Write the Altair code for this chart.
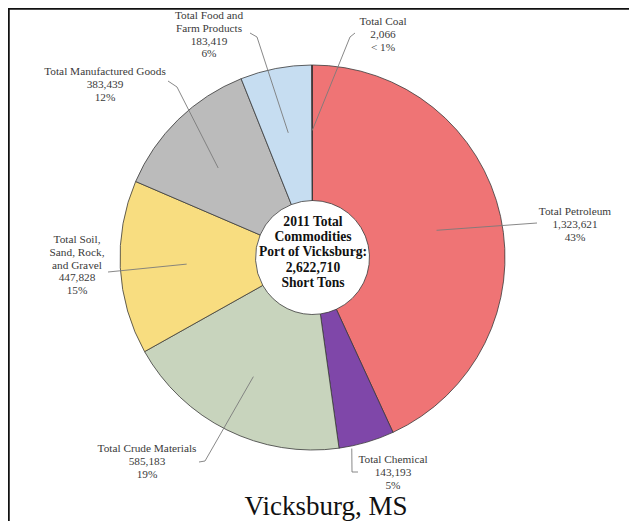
import math
import altair as alt
import pandas as pd

# ---------------- data ----------------
categories = [
    "Total Petroleum",
    "Total Chemical",
    "Total Crude Materials",
    "Total Soil, Sand, Rock, and Gravel",
    "Total Manufactured Goods",
    "Total Food and Farm Products",
    "Total Coal",
]
tons = [1323621, 143193, 585183, 447828, 383439, 183419, 2066]
tons_text = ["1,323,621", "143,193", "585,183", "447,828", "383,439", "183,419", "2,066"]
pct_text = ["43%", "5%", "19%", "15%", "12%", "6%", "< 1%"]
label_names = [
    "Total Petroleum",
    "Total Chemical",
    "Total Crude Materials",
    "Total Soil,\nSand, Rock,\nand Gravel",
    "Total Manufactured Goods",
    "Total Food and\nFarm Products",
    "Total Coal",
]
center_text = "2011 Total\nCommodities\nPort of Vicksburg:\n2,622,710\nShort Tons"
title_text = "Vicksburg, MS"

# ---------------- layout / style ----------------
W, H = 621, 513
OFF = 8  # page margin
CX, CY = 312.5 - OFF, 257.5 - OFF
R_OUT, R_IN = 192.5, 57
colors = ["#EF7475", "#7F47A9", "#C8D4BD", "#F8DD80", "#BBBBBB", "#C6DDF1", "#8B1A1A"]

# first-line centres of the label blocks (page coords)
label_pos = [(575, 212), (393, 460), (147, 449), (77, 240), (105, 72), (209, 16), (383, 22)]
# leader polyline points from label side (page coords), then anchor in slice
leader_pts = [
    [(537, 223)],
    [(358, 472), (352, 472)],
    [(199, 462), (205, 461)],
    [(108, 272)],
    [(168, 81), (177, 87)],
    [(250, 33), (257, 37)],
    [(355, 33), (350, 37)],
]
# (fraction within slice, radius) of the leader end point
anchors = [(0.5, 127), (0.78, 195), (0.5, 133), (0.5, 126), (0.45, 130), (0.5, 127), (0.5, 127)]

total = sum(tons)
starts = []
acc = 0
for t in tons:
    starts.append(acc)
    acc += t

df = pd.DataFrame({
    "name": categories,
    "value": tons,
    "order": list(range(len(tons))),
})

lab_rows = []
for i, name in enumerate(label_names):
    lab_rows.append({
        "px": label_pos[i][0] - OFF,
        "py": label_pos[i][1] - OFF,
        "txt": name + "\n" + tons_text[i] + "\n" + pct_text[i],
    })
lab_df = pd.DataFrame(lab_rows)

line_rows = []
for i in range(len(tons)):
    pts = [(x - OFF, y - OFF) for x, y in leader_pts[i]]
    frac, r = anchors[i]
    a = 2 * math.pi * (starts[i] + frac * tons[i]) / total
    pts.append((CX + r * math.sin(a), CY - r * math.cos(a)))
    for k, (x, y) in enumerate(pts):
        line_rows.append({"grp": i, "seq": k, "px": x, "py": y})
line_df = pd.DataFrame(line_rows)

xs = alt.Scale(domain=[0, W], range=[0, W], nice=False, zero=False)
ys = alt.Scale(domain=[0, H], range=[0, H], nice=False, zero=False)

arcs = alt.Chart(df).mark_arc(
    innerRadius=R_IN, outerRadius=R_OUT, stroke="#3a3a3a", strokeWidth=0.8
).encode(
    theta=alt.Theta("value:Q", stack=True),
    color=alt.Color("name:N", scale=alt.Scale(domain=categories, range=colors), legend=None),
    order=alt.Order("order:Q"),
    x=alt.value(CX),
    y=alt.value(CY),
)

leaders = alt.Chart(line_df).mark_line(color="#7a7a7a", strokeWidth=0.9).encode(
    x=alt.X("px:Q", scale=xs, axis=None),
    y=alt.Y("py:Q", scale=ys, axis=None),
    detail="grp:N",
    order=alt.Order("seq:Q"),
)

labels = alt.Chart(lab_df).mark_text(
    font="Liberation Serif", fontSize=11.3, color="#3a3a3a", align="center",
    baseline="middle", lineBreak="\n", lineHeight=12.8,
).encode(
    x=alt.X("px:Q", scale=xs, axis=None),
    y=alt.Y("py:Q", scale=ys, axis=None),
    text="txt:N",
)

center = alt.Chart(pd.DataFrame({"t": [center_text]})).mark_text(
    font="Liberation Serif", fontSize=13.6, fontWeight="bold", color="#111111",
    align="center", baseline="middle", lineBreak="\n", lineHeight=15.2,
).encode(
    x=alt.value(313 - OFF), y=alt.value(222 - OFF), text="t:N"
)

title = alt.Chart(pd.DataFrame({"t": [title_text]})).mark_text(
    font="Liberation Serif", fontSize=27, color="#111111", align="center",
    baseline="alphabetic",
).encode(x=alt.value(326 - OFF), y=alt.value(507), text="t:N")

frame_left = alt.Chart(pd.DataFrame({"a": [0]})).mark_rule(color="#111111", strokeWidth=2.5).encode(
    x=alt.value(0.5), y=alt.value(0), y2=alt.value(H)
)
frame_top = alt.Chart(pd.DataFrame({"a": [0]})).mark_rule(color="#111111", strokeWidth=2.5).encode(
    x=alt.value(0), x2=alt.value(W), y=alt.value(0.5)
)

chart = alt.layer(arcs, leaders, labels, center, title, frame_left, frame_top).properties(
    width=W, height=H, padding=0, autosize=alt.AutoSizeParams(type="none")
).configure_view(stroke=None)

chart.save("out.html", embed_options={"renderer": "svg", "actions": False})
